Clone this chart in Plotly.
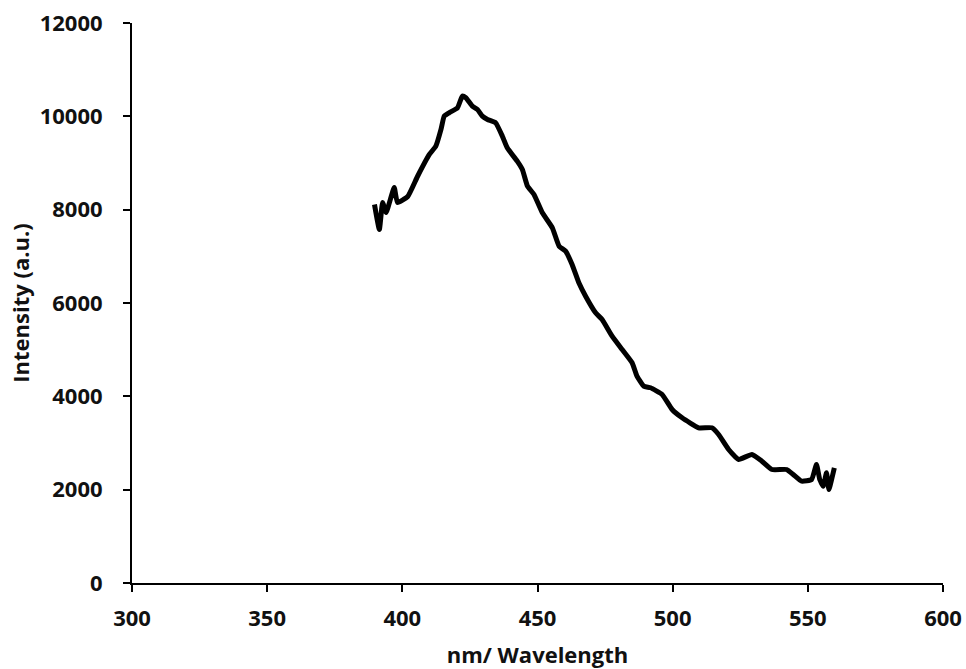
import plotly.graph_objects as go

wavelength = [389.7, 391.5, 392.7, 394.0, 397.0, 398.2, 402.0, 405.6, 410.0, 412.4,
              414.3, 415.5, 417.3, 420.4, 422.2, 423.5, 425.9, 427.8, 429.6, 431.5,
              434.5, 437.0, 438.8, 442.5, 444.4, 446.3, 448.7, 451.8, 455.5, 458.0,
              460.4, 462.8, 465.3, 467.8, 471.5, 473.9, 477.6, 481.3, 485.0, 486.8,
              489.3, 491.8, 496.1, 499.8, 503.5, 509.6, 514.5, 517.0, 520.7, 524.4,
              529.3, 533.0, 536.7, 542.2, 544.6, 547.7, 551.4, 553.2, 554.4, 555.7,
              556.9, 557.8, 558.8, 559.8]
intensity = [8111, 7576, 8154, 7940, 8475, 8154, 8283, 8711, 9183, 9361,
             9719, 10004, 10076, 10183, 10433, 10398, 10218, 10147, 10004, 9933,
             9862, 9575, 9326, 9039, 8861, 8503, 8325, 7933, 7612, 7218,
             7111, 6825, 6433, 6146, 5790, 5647, 5289, 5004, 4719, 4432,
             4218, 4183, 4040, 3718, 3540, 3326, 3326, 3182, 2861, 2647,
             2754, 2611, 2432, 2432, 2325, 2182, 2218, 2540, 2218, 2075,
             2361, 2004, 2218, 2468]

x_ticks = [300, 350, 400, 450, 500, 550, 600]
y_ticks = [0, 2000, 4000, 6000, 8000, 10000, 12000]
y_tick_labels = ["0", "2000", "4000", "6000", "8000", "10000", "12000"]

fig = go.Figure()
fig.add_trace(go.Scatter(x=wavelength, y=intensity, mode="lines",
                         line=dict(color="black", width=5, shape="spline", smoothing=0.4),
                         showlegend=False))

tickfont = dict(family="Open Sans", size=22, color="#111111", weight="bold")
titlefont = dict(family="Open Sans", size=22, color="#111111", weight="bold")
fig.update_layout(
    width=966, height=669,
    margin=dict(l=132, r=23, t=23, b=86),
    paper_bgcolor="white", plot_bgcolor="white",
    xaxis=dict(range=[300, 600], tickvals=x_ticks, ticks="outside", ticklen=7,
               tickwidth=2, tickcolor="black", showline=True, linecolor="black",
               linewidth=2, showgrid=False, zeroline=False, automargin=False,
               ticklabelstandoff=8, ticklabeloverflow="allow", tickfont=tickfont,
               title=dict(text="nm/ Wavelength", standoff=28, font=titlefont)),
    yaxis=dict(range=[0, 12000], tickvals=y_ticks, ticktext=y_tick_labels,
               ticks="outside", ticklen=7,
               tickwidth=2, tickcolor="black", showline=True, linecolor="black",
               linewidth=2, showgrid=False, zeroline=False, automargin=False,
               ticklabelstandoff=16, ticklabeloverflow="allow", tickfont=tickfont,
               title=dict(text="Intensity (a.u.)", standoff=4, font=titlefont)),
)
fig.write_html("out.html", config={"displayModeBar": False},
               post_script="document.body.style.margin='0';document.body.style.overflow='hidden';")
